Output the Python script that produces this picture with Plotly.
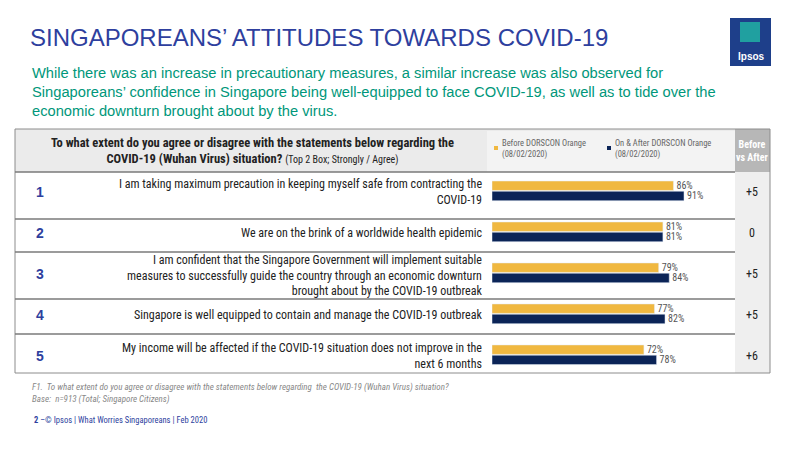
import plotly.graph_objects as go

rows = [1, 2, 3, 4, 5]
statements = [
    "I am taking maximum precaution in keeping myself safe from contracting the<br>COVID-19",
    "We are on the brink of a worldwide health epidemic",
    "I am confident that the Singapore Government will implement suitable<br>measures to successfully guide the country through an economic downturn<br>brought about by the COVID-19 outbreak",
    "Singapore is well equipped to contain and manage the COVID-19 outbreak",
    "My income will be affected if the COVID-19 situation does not improve in the<br>next 6 months",
]
before = [86, 81, 79, 77, 72]
after = [91, 81, 84, 82, 78]
diff = ["+5", "0", "+5", "+5", "+6"]

# page has an 8px body margin, so the figure is a bit smaller and coords are shifted
OFF = 8
W, H = 800 - OFF, 450 - OFF
NARROW = "Liberation Sans Narrow, Arial Narrow, Roboto Condensed, sans-serif"
YEL, NAVY = "#f0b840", "#0b2457"

def px(x):
    return (x - OFF) / W

def py(y):
    return 1 - (y - OFF) / H

fig = go.Figure()
fig.add_bar(y=rows, x=before, orientation="h", marker_color=YEL, name="before",
            text=[f"{v}%" for v in before], textposition="outside", constraintext="none",
            textfont=dict(size=10, color="#555", family=NARROW), cliponaxis=False)
fig.add_bar(y=rows, x=after, orientation="h", marker_color=NAVY, name="after",
            text=[f"{v}%" for v in after], textposition="outside", constraintext="none",
            textfont=dict(size=10, color="#555", family=NARROW), cliponaxis=False)

shapes = []
# header band
shapes.append(dict(type="rect", xref="paper", yref="paper", x0=px(15), x1=px(735),
                   y0=py(172), y1=py(129), fillcolor="#ebebeb", line_width=0, layer="below"))
shapes.append(dict(type="rect", xref="paper", yref="paper", x0=px(487), x1=px(735),
                   y0=py(172), y1=py(131), fillcolor="#f3f3f3", line_width=0, layer="below"))
# right column
shapes.append(dict(type="rect", xref="paper", yref="paper", x0=px(735), x1=px(770),
                   y0=py(172), y1=py(129), fillcolor="#b7b7b7", line_width=0, layer="below"))
shapes.append(dict(type="rect", xref="paper", yref="paper", x0=px(735), x1=px(770),
                   y0=py(373), y1=py(172), fillcolor="#efefef", line_width=0, layer="below"))
# outer border
shapes.append(dict(type="rect", xref="paper", yref="paper", x0=px(15), x1=px(770),
                   y0=py(373), y1=py(129), line=dict(color="#8c8c8c", width=1)))
for yl in [172, 219, 252, 299, 334]:
    shapes.append(dict(type="line", xref="paper", yref="paper", x0=px(15), x1=px(735),
                       y0=py(yl), y1=py(yl), line=dict(color="#7a7a7a", width=1.5)))
# logo
shapes.append(dict(type="rect", xref="paper", yref="paper", x0=px(730), x1=px(771),
                   y0=py(66), y1=py(18), fillcolor="#1e3f8a", line_width=0))
shapes.append(dict(type="rect", xref="paper", yref="paper", x0=px(740), x1=px(760),
                   y0=py(42), y1=py(22), fillcolor="#20a0a0", line_width=0))
# legend squares
shapes.append(dict(type="rect", xref="paper", yref="paper", x0=px(494), x1=px(498),
                   y0=py(150), y1=py(146), fillcolor=YEL, line_width=0))
shapes.append(dict(type="rect", xref="paper", yref="paper", x0=px(607), x1=px(611),
                   y0=py(150), y1=py(146), fillcolor=NAVY, line_width=0))

ann = []
def t(x, y, s, size, color, xa="left", ya="middle", fam=NARROW, **kw):
    ann.append(dict(x=px(x), y=py(y), xref="paper", yref="paper", text=s, showarrow=False,
                    xanchor=xa, yanchor=ya, font=dict(size=size, color=color, family=fam),
                    align=xa if xa != "center" else "center", **kw))

t(28, 38, "SINGAPOREANS’ ATTITUDES TOWARDS COVID-19", 24, "#2e3f9e", fam="Liberation Sans, Arial")
t(30, 92, "While there was an increase in precautionary measures, a similar increase was also observed for<br>"
  "Singaporeans’ confidence in Singapore being well-equipped to face COVID-19, as well as to tide over the<br>"
  "economic downturn brought about by the virus.", 14.7, "#00977a", fam="Liberation Sans, Arial")
t(751, 56, "<b>Ipsos</b>", 10, "white", xa="center", fam="Liberation Sans, Arial")
t(252, 151, "<b>To what extent do you agree or disagree with the statements below regarding the</b><br>"
  "<b>COVID-19 (Wuhan Virus) situation?</b> <span style='font-size:10px'>(Top 2 Box; Strongly / Agree)</span>",
  12.5, "#222", xa="center")
t(500, 149, "Before DORSCON Orange<br>(08/02/2020)", 8.5, "#666")
t(613, 149, "On & After DORSCON Orange<br>(08/02/2020)", 8.5, "#666")
t(752, 151, "<b>Before<br>vs After</b>", 10, "white", xa="center")
for r, s, d in zip(rows, statements, diff):
    y = 192 + 41 * (r - 1)
    t(40, y, f"<b>{r}</b>", 14, "#2e3f9e", xa="center", fam="Liberation Sans, Arial")
    t(484, y + (1 if r == 3 else 0), s, 12, "#222", xa="right")
    t(752, y, d, 12, "#222", xa="center")
t(30, 393, "<i>F1.  To what extent do you agree or disagree with the statements below regarding  the COVID-19 (Wuhan Virus) situation?<br>"
  "Base:  n=913 (Total; Singapore Citizens)</i>", 9, "#888")
t(32, 420, "<b>2</b> –© Ipsos | What Worries Singaporeans | Feb 2020", 8.5, "#2e3f9e")

fig.update_layout(
    width=W, height=H, margin=dict(l=0, r=0, t=0, b=0),
    paper_bgcolor="white", plot_bgcolor="rgba(0,0,0,0)", showlegend=False,
    barmode="group", bargap=0.5, bargroupgap=0.08,
    shapes=shapes, annotations=ann,
    xaxis=dict(domain=[px(492), px(703)], range=[0, 100], visible=False),
    yaxis=dict(domain=[py(372), py(172)], range=[5.42, 0.54], visible=False),
)
fig.write_html("out.html")
